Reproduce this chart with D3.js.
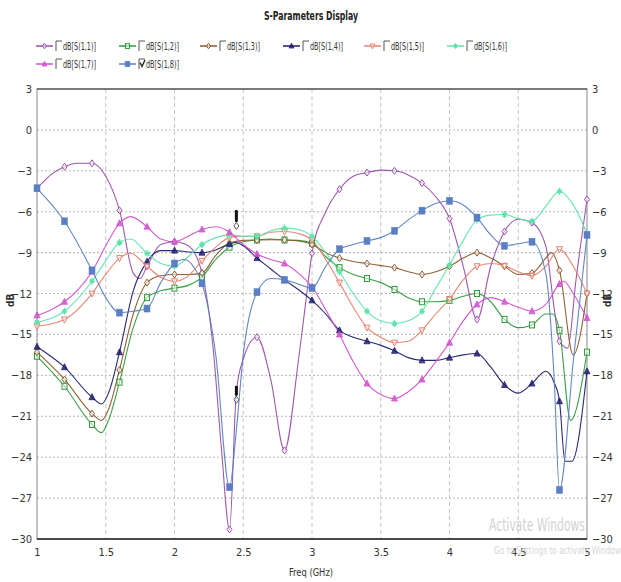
<!DOCTYPE html>
<html><head><meta charset="utf-8">
<script src="https://cdn.jsdelivr.net/npm/d3@7"></script>
<style>
body{margin:0;background:#fff;}
svg text{font-family:"DejaVu Sans Condensed","Liberation Sans",sans-serif;}
</style></head>
<body><svg id="c" width="621" height="582"></svg>
<script>
// ---------- data (freq GHz, dB) ----------
const xTicks = [1,1.5,2,2.5,3,3.5,4,4.5,5];
const yTicks = [3,0,-3,-6,-9,-12,-15,-18,-21,-24,-27,-30];
const seriesNames = ["dB[S(1,1)]","dB[S(1,2)]","dB[S(1,3)]","dB[S(1,4)]","dB[S(1,5)]","dB[S(1,6)]","dB[S(1,7)]","dB[S(1,8)]"];

const s11 = [[1.0,-4.3],[1.1,-3.3],[1.2,-2.7],[1.3,-2.45],[1.4,-2.45],[1.5,-3.4],[1.6,-5.9],[1.7,-10.5],[1.75,-10.9],[1.8,-10.0],[1.9,-8.4],[2.0,-8.2],[2.1,-8.5],[2.2,-10.5],[2.28,-15.9],[2.34,-23.2],[2.4,-29.3],[2.45,-19.2],[2.5,-16.8],[2.6,-15.2],[2.7,-18.3],[2.8,-23.5],[2.9,-17.0],[2.95,-13.0],[3.0,-9.05],[3.1,-6.0],[3.2,-4.35],[3.3,-3.4],[3.4,-3.13],[3.5,-2.95],[3.6,-3.0],[3.7,-3.3],[3.8,-3.9],[3.9,-4.9],[4.0,-6.5],[4.1,-10.0],[4.2,-13.9],[4.3,-10.0],[4.4,-7.45],[4.5,-6.55],[4.6,-6.8],[4.7,-8.5],[4.76,-13.0],[4.8,-15.5],[4.86,-16.0],[4.92,-11.0],[5.0,-5.1]];
const s12 = [[1.0,-16.6],[1.2,-18.8],[1.4,-21.6],[1.47,-22.2],[1.52,-21.3],[1.6,-18.5],[1.7,-14.5],[1.8,-12.3],[1.9,-11.8],[2.0,-11.6],[2.1,-11.4],[2.2,-10.8],[2.3,-9.5],[2.4,-8.6],[2.5,-8.2],[2.6,-8.07],[2.7,-8.0],[2.8,-8.07],[2.9,-8.1],[3.0,-8.3],[3.1,-9.3],[3.2,-10.1],[3.3,-10.6],[3.4,-10.9],[3.5,-11.2],[3.6,-11.7],[3.7,-12.3],[3.8,-12.6],[3.9,-12.6],[4.0,-12.5],[4.1,-12.2],[4.2,-12.0],[4.3,-12.6],[4.4,-13.9],[4.5,-14.5],[4.6,-14.3],[4.7,-13.5],[4.75,-13.5],[4.8,-14.7],[4.88,-21.3],[5.0,-16.3]];
const s13 = [[1.0,-16.3],[1.2,-18.3],[1.4,-20.8],[1.47,-21.3],[1.52,-20.5],[1.6,-17.6],[1.7,-13.5],[1.8,-11.2],[1.9,-10.7],[2.0,-10.6],[2.1,-10.6],[2.2,-10.5],[2.3,-9.2],[2.4,-8.3],[2.5,-8.1],[2.6,-8.07],[2.7,-8.05],[2.8,-8.07],[2.9,-8.15],[3.0,-8.4],[3.1,-9.0],[3.2,-9.4],[3.3,-9.65],[3.4,-9.8],[3.5,-9.95],[3.6,-10.1],[3.7,-10.4],[3.8,-10.6],[3.9,-10.4],[4.0,-10.0],[4.1,-9.4],[4.2,-9.0],[4.3,-9.4],[4.4,-10.0],[4.5,-10.6],[4.6,-10.5],[4.7,-9.4],[4.74,-9.0],[4.8,-10.3],[4.9,-16.5],[5.0,-12.0]];
const s14 = [[1.0,-15.9],[1.2,-17.4],[1.4,-19.6],[1.47,-20.1],[1.52,-19.3],[1.6,-16.3],[1.7,-11.8],[1.8,-9.66],[1.9,-8.85],[2.0,-8.85],[2.1,-8.95],[2.2,-9.0],[2.3,-8.8],[2.4,-8.36],[2.45,-8.26],[2.5,-8.5],[2.6,-9.4],[2.7,-10.2],[2.8,-11.0],[2.9,-11.7],[3.0,-12.5],[3.1,-13.5],[3.2,-14.7],[3.3,-15.2],[3.4,-15.5],[3.5,-15.8],[3.6,-16.2],[3.7,-16.7],[3.8,-16.9],[3.9,-16.9],[4.0,-16.7],[4.1,-16.5],[4.2,-16.4],[4.3,-17.4],[4.4,-18.7],[4.5,-19.3],[4.6,-18.6],[4.7,-17.7],[4.76,-18.5],[4.8,-19.9],[4.84,-24.3],[4.89,-24.3],[5.0,-17.7]];
const s15 = [[1.0,-14.4],[1.2,-13.9],[1.4,-12.0],[1.5,-10.6],[1.6,-9.4],[1.68,-9.05],[1.8,-10.0],[1.9,-10.8],[2.0,-11.1],[2.1,-10.7],[2.2,-9.6],[2.3,-8.6],[2.4,-7.9],[2.5,-7.8],[2.6,-7.8],[2.7,-7.5],[2.8,-7.45],[2.9,-7.6],[3.0,-8.07],[3.1,-9.5],[3.2,-11.2],[3.3,-13.0],[3.4,-14.5],[3.5,-15.2],[3.6,-15.6],[3.7,-15.5],[3.8,-14.7],[3.9,-13.5],[4.0,-12.4],[4.1,-11.0],[4.2,-10.0],[4.3,-9.8],[4.4,-9.97],[4.5,-10.4],[4.6,-10.7],[4.7,-10.0],[4.8,-8.75],[4.9,-10.0],[5.0,-12.0]];
const s16 = [[1.0,-14.1],[1.2,-13.3],[1.4,-11.1],[1.5,-9.6],[1.6,-8.26],[1.68,-8.0],[1.8,-9.05],[1.9,-9.8],[2.0,-10.0],[2.1,-9.3],[2.2,-8.4],[2.3,-7.9],[2.4,-7.7],[2.5,-7.8],[2.6,-7.8],[2.7,-7.4],[2.8,-7.2],[2.9,-7.3],[3.0,-7.8],[3.1,-9.0],[3.2,-10.4],[3.3,-12.0],[3.4,-13.3],[3.5,-14.0],[3.6,-14.2],[3.7,-14.0],[3.8,-13.3],[3.9,-11.6],[4.0,-9.9],[4.1,-8.1],[4.2,-6.6],[4.3,-6.25],[4.4,-6.2],[4.5,-6.5],[4.6,-6.7],[4.7,-5.6],[4.8,-4.5],[4.9,-5.5],[5.0,-7.6]];
const s17 = [[1.0,-13.6],[1.1,-13.2],[1.2,-12.6],[1.3,-11.7],[1.4,-10.4],[1.5,-8.5],[1.6,-6.85],[1.68,-6.36],[1.8,-7.1],[1.9,-8.0],[2.0,-8.2],[2.1,-7.8],[2.2,-7.3],[2.3,-7.1],[2.4,-7.5],[2.5,-8.4],[2.6,-9.1],[2.7,-9.5],[2.8,-9.8],[2.9,-10.5],[3.0,-11.5],[3.1,-13.2],[3.2,-15.0],[3.3,-17.0],[3.4,-18.6],[3.5,-19.4],[3.6,-19.7],[3.7,-19.2],[3.8,-18.3],[3.9,-17.0],[4.0,-15.6],[4.1,-14.0],[4.2,-12.8],[4.3,-12.3],[4.4,-12.6],[4.5,-13.0],[4.6,-13.3],[4.7,-12.8],[4.8,-11.3],[4.83,-11.1],[4.9,-12.0],[5.0,-13.8]];
const s18 = [[1.0,-4.28],[1.2,-6.7],[1.4,-10.3],[1.5,-12.3],[1.6,-13.4],[1.7,-13.3],[1.8,-13.1],[1.9,-11.2],[2.0,-9.8],[2.07,-9.5],[2.15,-10.2],[2.2,-11.25],[2.3,-16.5],[2.4,-26.2],[2.45,-22.0],[2.5,-16.5],[2.6,-11.9],[2.7,-10.9],[2.8,-11.0],[2.9,-11.3],[3.0,-11.6],[3.1,-10.0],[3.2,-8.75],[3.3,-8.4],[3.4,-8.14],[3.5,-7.9],[3.6,-7.4],[3.7,-6.6],[3.8,-5.92],[3.9,-5.4],[4.0,-5.2],[4.1,-5.5],[4.2,-6.43],[4.3,-7.7],[4.4,-8.5],[4.5,-8.35],[4.6,-8.2],[4.7,-10.5],[4.76,-18.0],[4.8,-26.4],[4.9,-17.0],[5.0,-7.7]];
const markerPoints = [[2.45,-6.6],[2.45,-19.2]];

// ---------- styles ----------
const colors = ["#9a4fa8","#2f9a3a","#8b5a2b","#1c1c6e","#e8806e","#5ee3ab","#d050cc","#5a7fc4"];
const series = [s11,s12,s13,s14,s15,s16,s17,s18];
const shapes = ["diamond","square","diamond","triangle","triDown","star","triangle","bigsquare"];

const svg = d3.select("#c");
const x = d3.scaleLinear().domain([1,5]).range([37,587]);
const y = d3.scaleLinear().domain([-30,3]).range([539,89]);

// title
svg.append("text").attr("x",311).attr("y",20).attr("text-anchor","middle")
  .attr("font-size",13).attr("font-weight","bold").attr("fill","#222")
  .attr("textLength",94).attr("lengthAdjust","spacingAndGlyphs").text("S-Parameters Display");

// grid
const grid = svg.append("g");
grid.selectAll("line.h").data(yTicks.filter(v=>v<3 && v>-30)).join("line")
  .attr("x1",x(1)).attr("x2",x(5)).attr("y1",d=>y(d)).attr("y2",d=>y(d))
  .attr("stroke","#b8b8b8").attr("stroke-dasharray","2,2").attr("stroke-width",1);
grid.selectAll("line.v").data(xTicks.filter(v=>v>1 && v<5)).join("line")
  .attr("x1",d=>x(d)).attr("x2",d=>x(d)).attr("y1",y(3)).attr("y2",y(-30))
  .attr("stroke","#c4c4c4").attr("stroke-dasharray","4,3").attr("stroke-width",1);

// axes
function styleAxis(g){ g.select(".domain").remove(); g.selectAll("text").attr("font-size",11).attr("fill","#333").style("font-family",'"DejaVu Sans Condensed",sans-serif'); }
svg.append("g").attr("transform",`translate(0,${y(-30)})`)
  .call(d3.axisBottom(x).tickValues(xTicks).tickSize(0).tickPadding(9).tickFormat(d3.format("")))
  .call(styleAxis);
svg.append("g").attr("transform",`translate(${x(1)},0)`)
  .call(d3.axisLeft(y).tickValues(yTicks).tickSize(0).tickPadding(5).tickFormat(d3.format("")))
  .call(styleAxis);
svg.append("g").attr("transform",`translate(${x(5)},0)`)
  .call(d3.axisRight(y).tickValues(yTicks).tickSize(0).tickPadding(5).tickFormat(d3.format("")))
  .call(styleAxis);

// frame
svg.append("rect").attr("x",x(1)).attr("y",y(3)).attr("width",x(5)-x(1)).attr("height",y(-30)-y(3))
  .attr("fill","none").attr("stroke","#888").attr("stroke-width",1);
svg.append("line").attr("x1",x(1)).attr("x2",x(5)).attr("y1",y(-30)).attr("y2",y(-30)).attr("stroke","#222").attr("stroke-width",1.5);
svg.append("line").attr("x1",x(1)).attr("x2",x(5)).attr("y1",y(3)).attr("y2",y(3)).attr("stroke","#333").attr("stroke-width",1.2);

// axis titles
svg.append("text").attr("x",311).attr("y",576).attr("text-anchor","middle").attr("font-size",10.5).attr("fill","#333")
  .attr("textLength",44).attr("lengthAdjust","spacingAndGlyphs").text("Freq (GHz)");
svg.append("text").attr("transform",`translate(14,${y(-12.5)}) rotate(-90)`).attr("text-anchor","middle").attr("font-size",10).attr("font-weight","bold").attr("fill","#333").text("dB");
svg.append("text").attr("transform",`translate(611,${y(-12.5)}) rotate(-90)`).attr("text-anchor","middle").attr("font-size",10).attr("font-weight","bold").attr("fill","#333").text("dB");

// watermark (present in the reference screenshot)
svg.append("text").attr("x",585).attr("y",531).attr("text-anchor","end").attr("font-size",17).attr("fill","#d2d2d2")
  .attr("textLength",96).attr("lengthAdjust","spacingAndGlyphs").text("Activate Windows");
svg.append("text").attr("x",494).attr("y",554).attr("font-size",11).attr("fill","#d6d6d6")
  .attr("textLength",127).attr("lengthAdjust","spacingAndGlyphs").text("Go to Settings to activate Window");

// markers
function marker(g, shape, color, cx, cy, s){
  const k = s||1;
  if(shape==="diamond"){ g.append("path").attr("d",`M${cx},${cy-3.5*k}L${cx+2.5*k},${cy}L${cx},${cy+3.5*k}L${cx-2.5*k},${cy}Z`).attr("fill","#fff").attr("fill-opacity",0.6).attr("stroke",color).attr("stroke-width",1); }
  else if(shape==="square"){ g.append("rect").attr("x",cx-2.5*k).attr("y",cy-3*k).attr("width",5*k).attr("height",6*k).attr("fill","#fff").attr("fill-opacity",0.5).attr("stroke",color).attr("stroke-width",1); }
  else if(shape==="bigsquare"){ g.append("rect").attr("x",cx-3*k).attr("y",cy-3.5*k).attr("width",6*k).attr("height",7*k).attr("fill",color).attr("stroke",color).attr("stroke-width",0.5); }
  else if(shape==="triangle"){ g.append("path").attr("d",`M${cx},${cy-3.5*k}L${cx+3*k},${cy+2.5*k}L${cx-3*k},${cy+2.5*k}Z`).attr("fill",color).attr("fill-opacity",0.8).attr("stroke",color).attr("stroke-width",0.8); }
  else if(shape==="triDown"){ g.append("path").attr("d",`M${cx-3*k},${cy-2.5*k}L${cx+3*k},${cy-2.5*k}L${cx},${cy+3.5*k}Z`).attr("fill","#fff").attr("fill-opacity",0.5).attr("stroke",color).attr("stroke-width",1); }
  else if(shape==="star"){ g.append("path").attr("d",`M${cx},${cy-3.5*k}L${cx},${cy+3.5*k}M${cx-3*k},${cy}L${cx+3*k},${cy}M${cx-2*k},${cy-2*k}L${cx+2*k},${cy+2*k}M${cx-2*k},${cy+2*k}L${cx+2*k},${cy-2*k}`).attr("stroke",color).attr("stroke-width",1.2); }
}

const line = d3.line().x(d=>x(d[0])).y(d=>y(d[1])).curve(d3.curveMonotoneX);
const plot = svg.append("g");
series.forEach((data,i)=>{
  plot.append("path").datum(data).attr("d",line).attr("fill","none").attr("stroke",colors[i]).attr("stroke-width",1.1).attr("stroke-opacity",0.95);
});
series.forEach((data,i)=>{
  data.filter(d=>Math.abs(d[0]*5-Math.round(d[0]*5))<1e-6).forEach(d=>marker(plot,shapes[i],colors[i],x(d[0]),y(d[1])));
});

// marker annotations at 2.45 GHz
markerPoints.forEach((p,j)=>{
  const cx=x(p[0]), cy=y(p[1]);
  plot.append("rect").attr("x",cx-1.5).attr("y",cy-(j===0?10:6)).attr("width",3).attr("height",j===0?12:10).attr("rx",1.2).attr("fill","#111");
  marker(plot,"diamond","#555",cx,cy+(j===0?6:8),1);
});

// legend
const legX = [36,119,200,283,364,447,36,119];
const legY = [46,46,46,46,46,46,64,64];
series.forEach((d,i)=>{
  const g = svg.append("g");
  const lx=legX[i], ly=legY[i];
  g.append("line").attr("x1",lx).attr("x2",lx+17).attr("y1",ly).attr("y2",ly).attr("stroke",colors[i]).attr("stroke-width",1.5);
  marker(g,shapes[i],colors[i],lx+8.5,ly,0.8);
  // checkbox
  g.append("path").attr("d",`M${lx+20},${ly+5}L${lx+20},${ly-5}L${lx+26},${ly-5}`).attr("fill","none").attr("stroke","#555").attr("stroke-width",1);
  if(i===7){ g.append("path").attr("d",`M${lx+21},${ly-1.5}L${lx+23},${ly+2.5}L${lx+26},${ly-4}`).attr("fill","none").attr("stroke","#222").attr("stroke-width",1.4); }
  g.append("text").attr("x",lx+27).attr("y",ly+4).attr("font-size",10.5).attr("fill","#333")
    .attr("textLength",33).attr("lengthAdjust","spacingAndGlyphs").text(seriesNames[i]);
});
</script></body></html>
